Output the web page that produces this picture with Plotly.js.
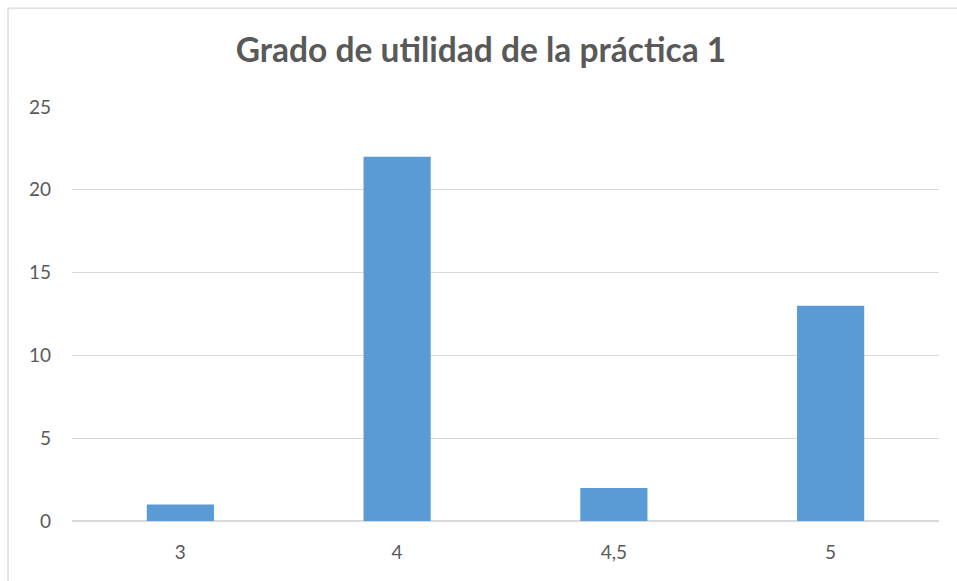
<!DOCTYPE html>
<html>
<head>
<meta charset="utf-8">
<script src="https://cdn.plot.ly/plotly-3.0.1.min.js"></script>
<style>
  html, body { margin: 0; padding: 0; background: #ffffff; }
  #chart { width: 957px; height: 581px; }
</style>
</head>
<body>
<div id="chart"></div>
<script>
const categories = ['3', '4', '4,5', '5'];
const counts = [1, 22, 2, 13];
const yTicks = [0, 5, 10, 15, 20, 25];
const chartTitle = 'Grado de utilidad de la práctica 1';

const textColor = '#595959';
const gridColor = '#D9D9D9';
const barColor = '#5B9BD5';

const trace = {
  type: 'bar',
  x: categories,
  y: counts,
  marker: { color: barColor },
  hoverinfo: 'x+y'
};

const layout = {
  width: 957,
  height: 581,
  margin: { l: 72, r: 18, t: 106.5, b: 60 },
  paper_bgcolor: '#ffffff',
  plot_bgcolor: '#ffffff',
  showlegend: false,
  bargap: 0.69,
  font: { family: 'Lato, "Open Sans", sans-serif', color: textColor },
  title: {
    text: chartTitle,
    font: { family: 'Lato, "Open Sans", sans-serif', size: 33.5, color: textColor, weight: 'bold' },
    xref: 'container', yref: 'container',
    x: 0.5026, xanchor: 'center',
    y: 0.914, yanchor: 'middle'
  },
  xaxis: {
    type: 'category',
    showgrid: false,
    zeroline: false,
    showline: false,
    ticks: '',
    ticklabelstandoff: 18,
    tickfont: { size: 19, color: textColor }
  },
  yaxis: {
    range: [0, 25],
    tickvals: yTicks,
    ticktext: yTicks.map(String),
    showgrid: true,
    gridcolor: gridColor,
    gridwidth: 1.3,
    zeroline: true,
    zerolinecolor: gridColor,
    zerolinewidth: 1.3,
    showline: false,
    ticks: '',
    ticklabelstandoff: 20,
    tickfont: { size: 19, color: textColor },
    fixedrange: true
  },
  shapes: [{
    type: 'rect',
    xref: 'paper', yref: 'paper',
    x0: -0.0738, x1: 1.1,
    y0: -0.3, y1: 1.2388,
    line: { color: gridColor, width: 1.3 },
    fillcolor: 'rgba(0,0,0,0)',
    layer: 'below'
  }]
};

Plotly.newPlot('chart', [trace], layout, { displayModeBar: false, staticPlot: true });
</script>
</body>
</html>
